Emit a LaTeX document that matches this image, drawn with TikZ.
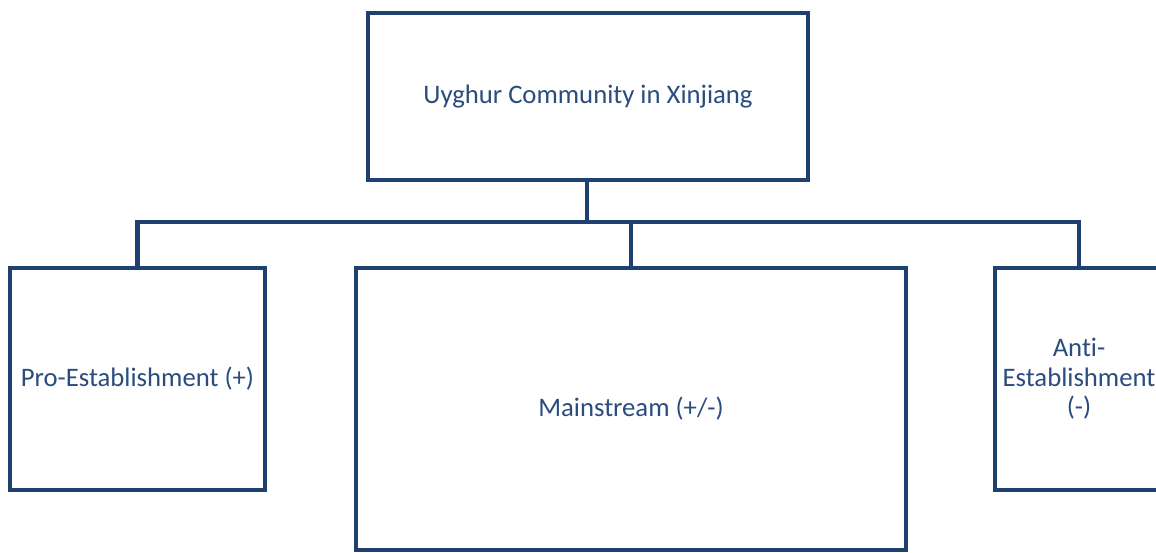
\documentclass[tikz,border=0pt]{standalone}
\usepackage{fontspec}
\setmainfont{Carlito}[Ligatures={NoCommon}]
\usepackage{xcolor}
\usepackage{tikz}
\usetikzlibrary{positioning}

\definecolor{boxblue}{RGB}{31,64,112}
\definecolor{textblue}{RGB}{42,76,126}

\tikzset{
    orgbox/.style={draw=boxblue, line width=0.09cm, fill=white, rectangle,
        text=textblue, align=center, inner sep=0pt,
        font=\fontsize{15.2}{16.8}\selectfont},
    link/.style={draw=boxblue, line width=0.09cm}
}

\begin{document}
\begin{tikzpicture}[x=0.02cm, y=-0.02cm]
    \useasboundingbox (0,0) rectangle (1156,553);
    \clip (0,0) rectangle (1156,553);
    % top box
    \node[orgbox, minimum width=8.8cm, minimum height=3.34cm] (uyghur) at (588,96.5)
        {Uyghur Community in Xinjiang};
    % the three groups
    \node[orgbox, minimum width=5.1cm, minimum height=4.44cm] (pro) at (137.5,379)
        {Pro-Establishment (+)};
    \node[orgbox, minimum width=11cm, minimum height=5.64cm] (main) at (631,409)
        {Mainstream (+/-)};
    \node[orgbox, minimum width=3.36cm, minimum height=4.44cm] (anti) at (1079,379)
        {Anti-\\Establishment\\(-)};
    % connectors
    \coordinate (bus) at (587,222);
    \draw[link] (uyghur.south -| bus) -- (bus);
    \draw[link] (pro.north) |- (bus) -| (anti.north);
    \draw[link] (main.north) -- (main.north |- bus);
\end{tikzpicture}
\end{document}
